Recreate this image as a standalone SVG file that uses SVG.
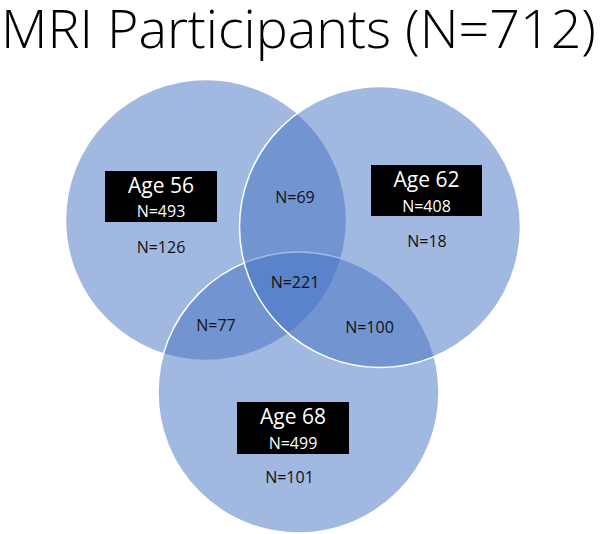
<svg xmlns="http://www.w3.org/2000/svg" width="600" height="534" viewBox="0 0 600 534">
<style>
.c{fill:#4472C4;fill-opacity:0.5;stroke:#FFFFFF;stroke-width:1.5}
.box{fill:#000000}
.t{font-family:"Open Sans","Liberation Sans",sans-serif;text-anchor:middle}
.age{font-size:21px;fill:#FFFFFF}
.tot{font-size:16px;fill:#FFFFFF}
.n{font-size:16px;fill:#111111}
.title{font-family:"Open Sans","Liberation Sans",sans-serif;font-weight:300;font-size:53px;fill:#000000}
</style>
<rect width="600" height="534" fill="#FFFFFF"/>
<text class="title" x="1" y="48" textLength="595" lengthAdjust="spacingAndGlyphs">MRI Participants (N=712)</text>
<g id="circles">
<circle id="circle-age56" class="c" cx="206" cy="220" r="140.5"/>
<circle id="circle-age68" class="c" cx="298.5" cy="392.5" r="140.5"/>
<circle id="circle-age62" class="c" cx="380" cy="227" r="140.5"/>
</g>
<g id="age56">
<rect class="box" x="105" y="171" width="112" height="51"/>
<text class="t age" x="161" y="193">Age 56</text>
<text class="t tot" x="161" y="217">N=493</text>
<text class="t n" x="161" y="253">N=126</text>
</g>
<g id="age62">
<rect class="box" x="371" y="165" width="111" height="51"/>
<text class="t age" x="426.5" y="187">Age 62</text>
<text class="t tot" x="426.5" y="211.5">N=408</text>
<text class="t n" x="427" y="246.5">N=18</text>
</g>
<g id="age68">
<rect class="box" x="237" y="402" width="112" height="52"/>
<text class="t age" x="293" y="424">Age 68</text>
<text class="t tot" x="293" y="449">N=499</text>
<text class="t n" x="289.5" y="483">N=101</text>
</g>
<g id="overlaps">
<text class="t n" x="295" y="203">N=69</text>
<text class="t n" x="295" y="288">N=221</text>
<text class="t n" x="216" y="330.5">N=77</text>
<text class="t n" x="369.5" y="333">N=100</text>
</g>
</svg>
